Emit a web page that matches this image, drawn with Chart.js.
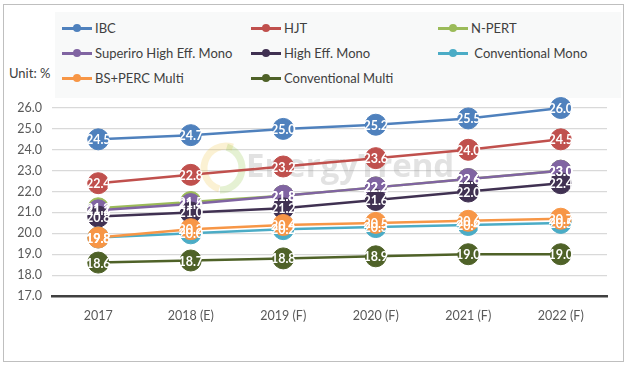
<!DOCTYPE html>
<html>
<head>
<meta charset="utf-8">
<script src="https://cdn.jsdelivr.net/npm/chart.js@4"></script>
<style>
  body { margin: 0; background: #fff; font-family: Lato, "Open Sans", sans-serif; }
  #wrap { position: relative; width: 632px; height: 367px; }
  #frame { position: absolute; left: 3px; top: 4px; width: 621px; height: 358px; border: 1px solid #bfbfbf; box-sizing: border-box; }
  #legendBg { position: absolute; left: 55px; top: 12px; width: 566px; height: 86px; background: #f8f9f9; }
  .lg { position: absolute; font-size: 13px; color: #404040; white-space: nowrap; line-height: 16px; }
  .lg i { display: inline-block; position: relative; width: 30px; height: 3px; vertical-align: middle; margin-right: 3px; top: -1px; }
  .lg i b { position: absolute; left: 11px; top: -3px; width: 8px; height: 8px; border-radius: 50%; }
  #unit { position: absolute; left: 9px; top: 65px; font-size: 13px; color: #404040; }
  canvas { position: absolute; left: 0; top: 0; }
</style>
</head>
<body>
<div id="wrap">
  <div id="frame"></div>
  <div id="legendBg"></div>
  <div id="unit">Unit: %</div>
  <div id="legend"></div>
  <canvas id="chart" width="632" height="367"></canvas>
</div>
<script>
const years = ["2017", "2018 (E)", "2019 (F)", "2020 (F)", "2021 (F)", "2022 (F)"];
const names = ["IBC", "HJT", "N-PERT", "Superiro High Eff. Mono", "High Eff. Mono",
               "Conventional Mono", "BS+PERC Multi", "Conventional Multi"];
const colors = ["#4f81bd", "#c0504d", "#9bbb59", "#8064a2", "#403152",
                "#4bacc6", "#f79646", "#4f6228"];

const ibc = [24.5, 24.7, 25.0, 25.2, 25.5, 26.0];
const hjt = [22.4, 22.8, 23.2, 23.6, 24.0, 24.5];
const nPert = [21.2, 21.5, 21.8, 22.2, 22.6, 23.0];
const superiroMono = [21.1, 21.4, 21.8, 22.2, 22.6, 23.0];
const highEffMono = [20.8, 21.0, 21.2, 21.6, 22.0, 22.4];
const convMono = [19.8, 20.0, 20.2, 20.3, 20.4, 20.5];
const bsPercMulti = [19.8, 20.2, 20.4, 20.5, 20.6, 20.7];
const convMulti = [18.6, 18.7, 18.8, 18.9, 19.0, 19.0];
const yTicks = [17, 18, 19, 20, 21, 22, 23, 24, 25, 26];

const series = [ibc, hjt, nPert, superiroMono, highEffMono, convMono, bsPercMulti, convMulti];

// legend in three columns, like the original
const legendPos = [[62, 20], [251, 20], [438, 20], [62, 45], [251, 45], [438, 45], [62, 70], [251, 70]];
const legend = document.getElementById("legend");
names.forEach((n, i) => {
  const d = document.createElement("div");
  d.className = "lg";
  d.style.left = legendPos[i][0] + "px";
  d.style.top = legendPos[i][1] + "px";
  const gap = n === "Conventional Mono" ? " " : "";
  d.innerHTML = '<i style="background:' + colors[i] + '"><b style="background:' + colors[i] + '"></b></i>' + gap + n;
  legend.appendChild(d);
});

// white value labels on the markers
const valueLabels = {
  id: "valueLabels",
  afterDatasetsDraw(chart) {
    const ctx = chart.ctx;
    ctx.save();
    ctx.font = "bold 12.5px Lato, sans-serif";
    ctx.fillStyle = "#fff";
    ctx.textAlign = "center";
    ctx.textBaseline = "middle";
    chart.data.datasets.forEach((ds, i) => {
      chart.getDatasetMeta(i).data.forEach((pt, j) => {
        ctx.fillText(ds.data[j].toFixed(1), pt.x, pt.y + 1);
      });
    });
    ctx.restore();
  }
};

const watermark = {
  id: "watermark",
  beforeDatasetsDraw(chart) {
    const ctx = chart.ctx;
    ctx.save();
    ctx.lineWidth = 7;
    ctx.strokeStyle = "rgba(240, 200, 80, 0.25)";
    ctx.beginPath();
    ctx.arc(226, 168, 22, Math.PI * 0.6, Math.PI * 1.6);
    ctx.stroke();
    ctx.strokeStyle = "rgba(150, 200, 80, 0.25)";
    ctx.beginPath();
    ctx.arc(220, 168, 22, Math.PI * 1.6, Math.PI * 2.5);
    ctx.stroke();
    ctx.font = "bold 33px 'Open Sans', sans-serif";
    ctx.fillStyle = "rgba(160, 160, 160, 0.3)";
    ctx.textBaseline = "middle";
    ctx.fillText("EnergyTrend", 246, 168);
    ctx.restore();
  }
};

new Chart(document.getElementById("chart"), {
  type: "line",
  data: {
    labels: years,
    datasets: series.map((s, i) => ({
      label: names[i],
      data: s,
      borderColor: colors[i],
      backgroundColor: colors[i],
      pointBackgroundColor: colors[i],
      pointBorderColor: colors[i],
      borderWidth: 2.5,
      pointRadius: 10.5,
      pointBorderWidth: 1,
      order: series.length - i,
      clip: false,
      tension: 0
    }))
  },
  options: {
    responsive: false,
    animation: false,
    events: [],
    layout: { padding: { top: 108, right: 25, bottom: 41, left: 0 } },
    plugins: { legend: { display: false }, tooltip: { enabled: false } },
    scales: {
      x: {
        offset: true,
        grid: { display: false, drawTicks: false },
        border: { color: "#404040", width: 2.5 },
        ticks: { color: "#595959", font: { family: "Lato", size: 12.5 }, padding: 12 },
        afterFit(s) { s.height = 30; }
      },
      y: {
        min: 17, max: 26,
        afterBuildTicks(s) { s.ticks = yTicks.map(v => ({ value: v })); },
        grid: { color: "#d9d9d9", lineWidth: 1.2, drawTicks: false },
        border: { display: false },
        ticks: {
          color: "#595959", font: { family: "Lato", size: 12.5 }, padding: 10,
          callback: v => v.toFixed(1)
        },
        afterFit(s) { s.width = 52; }
      }
    }
  },
  plugins: [watermark, valueLabels]
});
</script>
</body>
</html>
